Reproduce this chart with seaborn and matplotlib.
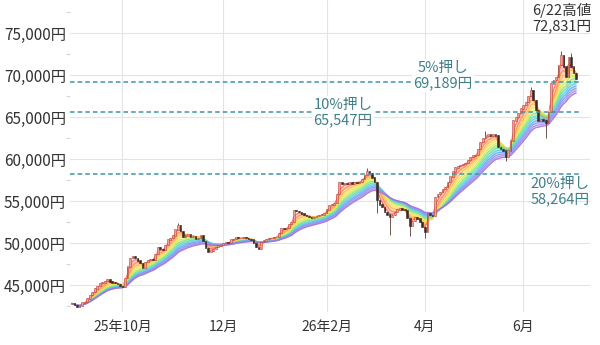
import numpy as np
import pandas as pd
import matplotlib
matplotlib.use("Agg")
import matplotlib.pyplot as plt
import matplotlib.transforms as mtransforms
from matplotlib.ticker import MultipleLocator, FuncFormatter
import seaborn as sns

# ---------------- data ----------------
jp_holidays = ["2025-09-15", "2025-09-23", "2025-10-13", "2025-11-03", "2025-11-24",
               "2025-12-31", "2026-01-01", "2026-01-02", "2026-01-12", "2026-02-11",
               "2026-02-23", "2026-03-20", "2026-04-29", "2026-05-04", "2026-05-05",
               "2026-05-06"]

close_sep = [42800, 42600, 42400, 42500, 42900, 43000, 43400, 43800, 44200, 44600,
             44900, 45200, 45300, 45500, 45700, 45400, 45300, 45200, 45100, 44900]
close_oct = [44800, 45800, 47200, 48200, 48400, 48200, 47900, 47600, 47100, 47700,
             48000, 48100, 48000, 48700, 49500, 49300, 49200, 49800, 50400, 50600,
             50900, 51600]
close_nov = [52100, 51400, 50700, 50900, 51000, 50700, 50800, 50500, 50600, 50900,
             50200, 49400, 49000, 49100, 49300, 49500, 49700, 49800]
close_dec = [50000, 50100, 50000, 50400, 50500, 50700, 50600, 50600, 50700, 50600,
             50500, 50400, 50000, 49500, 49300, 50100, 50300, 50500, 50600, 50600,
             50700, 50700]
close_jan = [51200, 51800, 51700, 51800, 52300, 52500, 53900, 53800, 53700, 53500,
             53300, 53200, 53100, 53000, 53100, 53200, 53300, 53400, 53600]
close_feb = [54000, 54500, 54600, 54800, 55800, 57300, 57000, 57100, 57000, 57200,
             57100, 57300, 57200, 57300, 57600, 58100, 58600, 58300]
close_mar = [57800, 57300, 55100, 54600, 54300, 53700, 53400, 53100, 53300, 53700,
             54000, 54200, 54000, 53900, 53000, 52100, 52600, 53100, 52900, 52500,
             51900]
close_apr = [51300, 53500, 53300, 53200, 55500, 55800, 56100, 56400, 56700, 57300,
             57900, 58500, 59000, 59200, 59300, 59400, 59500, 59900, 60200, 60400,
             60500]
close_may = [61200, 62000, 62500, 62800, 62900, 62700, 62900, 62800, 61400, 61200,
             61000, 60200, 61000, 62200, 64600, 65000, 65500, 66000]
close_jun = [66400, 66800, 67500, 68200, 67000, 65800, 64600, 64800, 64600, 64300,
             65600, 69000, 69400, 69800, 71200, 72400, 71000, 69800, 72100, 71000,
             70200, 69500]

# long wicks (trading-day index -> price)
wick_highs = {42: 52400, 117: 58900, 164: 63300, 182: 68600, 194: 72831, 198: 72600}
wick_lows = {121: 53600, 126: 51000, 134: 50800, 140: 50600, 172: 59800, 188: 62500}

ma_periods = [3, 5, 7, 9, 11, 13, 15, 17, 19, 21, 23, 25]
ma_colors = ["#ff5a4f", "#ff8f3f", "#ffbe45", "#f4e64a", "#c6ec5c", "#86e07a",
             "#5ddcb8", "#5cc8ee", "#6aa6f4", "#8e92f0", "#b08ae8", "#9c72d6"]

levels = [69189, 65547, 58264]
level_labels = ["5%押し\n69,189円", "10%押し\n65,547円", "20%押し\n58,264円"]
peak_label = "6/22高値\n72,831円"

month_labels = ["25年10月", "12月", "26年2月", "4月", "6月"]
month_starts = ["2025-10-01", "2025-12-01", "2026-02-01", "2026-04-01", "2026-06-01"]
y_ticks = [45000, 50000, 55000, 60000, 65000, 70000, 75000]

# ---------------- build ----------------
dates = pd.bdate_range("2025-09-01", "2026-06-30")
dates = dates[~dates.isin(pd.to_datetime(jp_holidays))]
close = np.array(close_sep + close_oct + close_nov + close_dec + close_jan +
                 close_feb + close_mar + close_apr + close_may + close_jun, dtype=float)
assert len(close) == len(dates), (len(close), len(dates))
idx = np.arange(len(close))
open_ = np.r_[close[0], close[:-1]]
high = np.maximum(open_, close)
low = np.minimum(open_, close)
for k, v in wick_highs.items():
    high[k] = max(high[k], v)
for k, v in wick_lows.items():
    low[k] = min(low[k], v)

s = pd.Series(close)
ma_df = pd.concat([pd.DataFrame({"i": idx, "ma": s.ewm(span=p).mean().values, "period": str(p)})
                   for p in ma_periods], ignore_index=True)

sns.set_theme(style="white")
plt.rcParams['font.family'] = ['Noto Sans CJK JP', 'DejaVu Sans']

fig = plt.figure(figsize=(6, 3.45), dpi=100)
ax = fig.add_axes([70 / 600, 1 - 312 / 345, 520 / 600, 312 / 345])

# ribbon fills
mas = [s.ewm(span=p).mean().values for p in ma_periods]
for a, b, c in zip(mas[:-1], mas[1:], ma_colors[:-1]):
    ax.fill_between(idx, a, b, color=c, alpha=0.35, lw=0, zorder=1)
sns.lineplot(data=ma_df, x="i", y="ma", hue="period", palette=ma_colors,
             legend=False, ax=ax, lw=0.9, alpha=0.85, zorder=2)

# candles
up = close >= open_
ax.vlines(idx, low, high, color="#5a3a36", lw=0.6, zorder=3)
ax.bar(idx[up], (close - open_)[up] + 40, bottom=open_[up] - 20, width=0.7,
       color="#f0a090", edgecolor="#c0443a", lw=0.4, zorder=4)
ax.bar(idx[~up], (open_ - close)[~up] + 40, bottom=close[~up] - 20, width=0.7,
       color="#3a2a28", edgecolor="#3a2a28", lw=0.4, zorder=4)

# axes formatting
ax.set_xlim(-0.8, 205.5)
ax.set_ylim(41786, 78929)
ax.set_yticks(y_ticks)
ax.yaxis.set_major_formatter(FuncFormatter(lambda v, p: f"{int(v):,}円"))
ax.yaxis.set_minor_locator(MultipleLocator(2500))
month_idx = [int(np.searchsorted(dates, pd.Timestamp(d))) for d in month_starts]
ax.set_xticks(month_idx)
ax.set_xticklabels(month_labels)
ax.grid(True, which="major", color="#e3e3e3", lw=0.8, zorder=0)
for sp in ax.spines.values():
    sp.set_visible(False)
ax.tick_params(axis="y", which="major", length=0, pad=3, labelsize=11, colors="#333333")
ax.tick_params(axis="y", which="minor", length=3, width=0.8, color="#d5d5d5", left=True)
ax.tick_params(axis="x", length=0, pad=6, labelsize=10, colors="#333333")
ax.set_xlabel("")
ax.set_ylabel("")

# retracement lines and labels
trans = mtransforms.blended_transform_factory(ax.transAxes, ax.transData)
line_col = "#3d95a8"
for v in levels:
    ax.axhline(v, xmin=0, xmax=0.985, color=line_col, lw=1.1, ls=(0, (3, 2)), zorder=5)

txt_col = "#3f7f8a"
box = dict(facecolor="white", edgecolor="none", pad=1.0)
ax.text(0.717, levels[0] + 700, level_labels[0], transform=trans, ha="center", va="center",
        fontsize=10.5, color=txt_col, linespacing=1.1, bbox=box, zorder=6)
ax.text(0.525, levels[1], level_labels[1], transform=trans, ha="center", va="center",
        fontsize=10.5, color=txt_col, linespacing=1.1, bbox=box, zorder=6)
ax.text(0.942, levels[2] - 400, level_labels[2], transform=trans, ha="center", va="top",
        fontsize=10.5, color=txt_col, linespacing=1.1, zorder=6)
ax.text(0.946, 0.99, peak_label, transform=ax.transAxes, ha="center", va="top",
        fontsize=10.5, color="#333333", linespacing=1.1, zorder=6)

fig.savefig("out.png", dpi=100)
